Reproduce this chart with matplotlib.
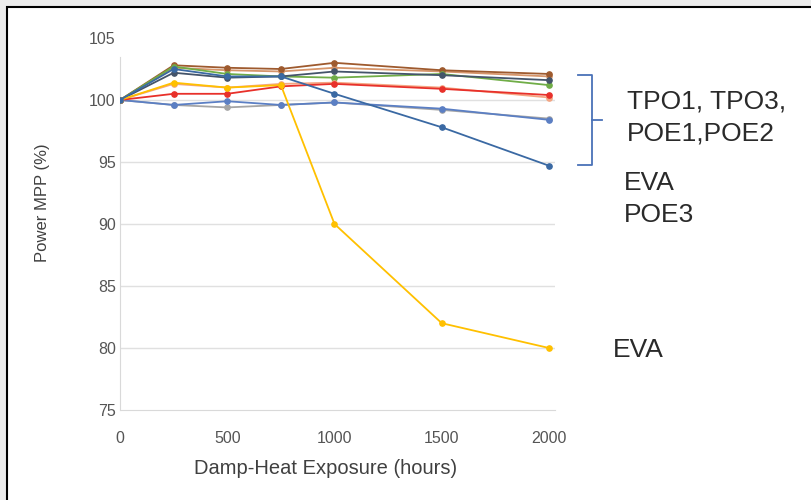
import numpy as np
import matplotlib
matplotlib.use("Agg")
import matplotlib.pyplot as plt
from matplotlib.patches import Rectangle

plt.rcParams['font.family'] = ['Liberation Sans', 'DejaVu Sans']

# horas de exposición damp-heat
hours = [0, 250, 500, 750, 1000, 1500, 2000]

# series
brown = [100.0, 102.8, 102.6, 102.5, 103.0, 102.4, 102.1]
tan = [100.0, 102.6, 102.4, 102.3, 102.6, 102.3, 101.9]
slate = [100.0, 102.2, 101.8, 101.9, 102.3, 102.0, 101.6]
green = [100.0, 102.7, 102.1, 101.9, 101.8, 102.1, 101.2]
blue_drop = [100.0, 102.5, 101.9, 101.9, 100.5, 97.8, 94.7]
light_blue = [100.0, 99.6, 99.9, 99.6, 99.8, 99.3, 98.4]
gray = [100.0, 99.6, 99.4, 99.6, 99.8, 99.2, 98.5]
salmon = [100.0, 101.3, 101.0, 101.3, 101.4, 101.0, 100.2]
red = [100.0, 100.5, 100.5, 101.1, 101.3, 100.9, 100.4]
yellow = [100.0, 101.4, 101.0, 101.2, 90.0, 82.0, 80.0]

series = [
    (gray, '#a5a5a5'),
    (light_blue, '#5b7fc4'),
    (tan, '#d6956a'),
    (brown, '#9e5a2e'),
    (green, '#70ad47'),
    (slate, '#44546a'),
    (salmon, '#f4a582'),
    (red, '#e8302a'),
    (yellow, '#ffc000'),
    (blue_drop, '#3a69a3'),
]

yticks = [75, 80, 85, 90, 95, 100, 105]
xticks = [0, 500, 1000, 1500, 2000]

fig = plt.figure(figsize=(8.12, 5.0), dpi=100)
fig.patch.set_facecolor('#ececec')
# marco blanco con borde negro
fig.patches.append(Rectangle((7/812, -0.05), 1.0, (500-7)/500 + 0.05, transform=fig.transFigure,
                             facecolor='white', edgecolor='black', lw=1.5, zorder=-5))

ax = fig.add_axes([120/812, (500-410)/500, 435/812, 372/500])
ax.set_facecolor('none')
ax.set_zorder(3)

for vals, col in series:
    ax.plot(hours, vals, color=col, lw=1.3, marker='o', ms=3.8, zorder=3)

ax.set_xlim(0, 2028)
ax.set_ylim(75, 105)
ax.set_yticks(yticks)
ax.set_xticks(xticks)
ax.tick_params(length=0, labelsize=11.5, colors='#555555', pad=3)
ax.tick_params(axis='x', pad=15)

for y in yticks[1:-1]:
    ax.axhline(y, color='#e0e0e0', lw=1, zorder=1)

for s in ['top', 'right']:
    ax.spines[s].set_visible(False)
ax.spines['bottom'].set_color('#d9d9d9')
ax.spines['left'].set_color('#d9d9d9')
ax.spines['left'].set_bounds(75, 103.5)

ax.set_xlabel('Damp-Heat Exposure (hours)', fontsize=14.5, color='#404040')
ax.set_ylabel('Power MPP (%)', fontsize=12, color='#404040')
ax.xaxis.set_label_coords((326 - 120) / 435, -(468 - 410) / 372)
ax.yaxis.set_label_coords(-(120 - 42) / 435, (410 - 203) / 372)
ax.xaxis.label.set_va('center')
ax.yaxis.label.set_va('center')

# anotaciones a la derecha
tcol = '#2a2a2a'
fig.text(627/812, 1 - 102/500, 'TPO1, TPO3,', fontsize=19, color=tcol, va='center')
fig.text(627/812, 1 - 133/500, 'POE1,POE2', fontsize=19, color=tcol, va='center')
fig.text(624/812, 1 - 183/500, 'EVA', fontsize=19, color=tcol, va='center')
fig.text(624/812, 1 - 215/500, 'POE3', fontsize=19, color=tcol, va='center')
fig.text(613/812, 1 - 350/500, 'EVA', fontsize=19, color=tcol, va='center')

# corchete azul
bx = [578, 592, 592, 578]
by = [75, 75, 165, 165]
fig.add_artist(plt.Line2D([v/812 for v in bx], [1 - v/500 for v in by], color='#4a72b8', lw=1.3))
fig.add_artist(plt.Line2D([592/812, 602/812], [1 - 120/500, 1 - 120/500], color='#4a72b8', lw=1.3))

fig.savefig('out.png', dpi=100, facecolor=fig.get_facecolor())
